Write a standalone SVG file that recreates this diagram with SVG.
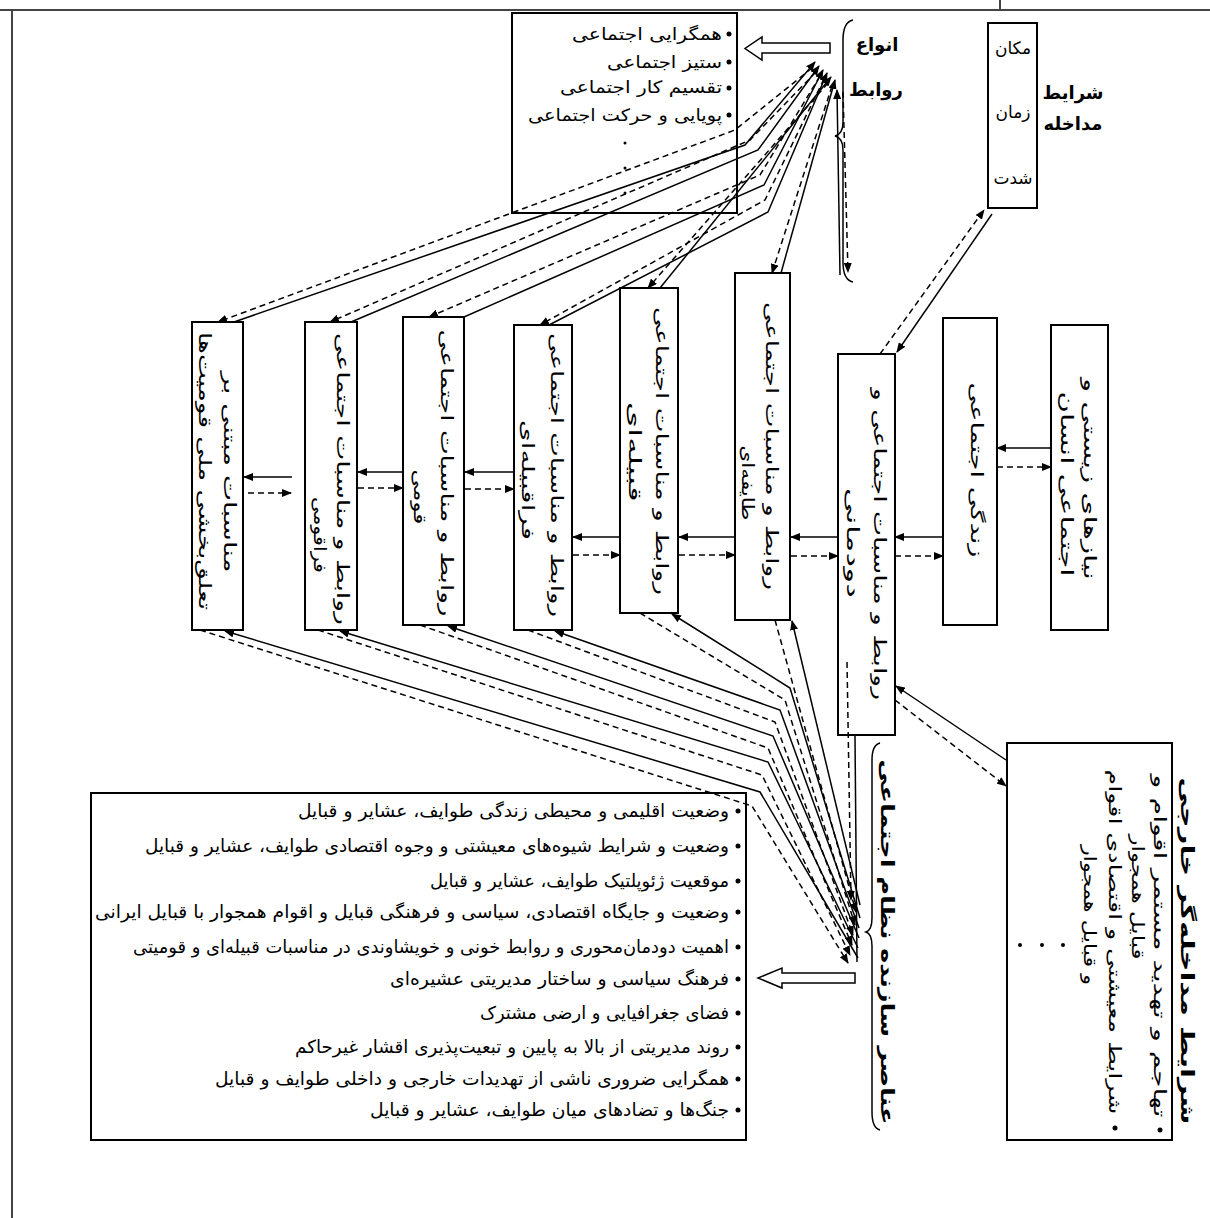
<svg xmlns="http://www.w3.org/2000/svg" width="1210" height="1218" viewBox="0 0 1210 1218">
<style>
.box{fill:#fff;stroke:#000;stroke-width:2}
.s{fill:none;stroke:#000;stroke-width:1.5}
.d{fill:none;stroke:#000;stroke-width:1.5;stroke-dasharray:6 4}
.h{fill:#fff;stroke:#000;stroke-width:1.5}
.t{font-family:'DejaVu Sans','Noto Sans',sans-serif;font-size:17px;fill:#000}
.l{font-size:18px}
.b{font-weight:bold;font-size:18px}
.frame{stroke:#444;stroke-width:2;fill:none}
</style>
<defs>
<marker id="a" viewBox="0 0 10 8" refX="9" refY="4" markerWidth="10" markerHeight="8" markerUnits="userSpaceOnUse" orient="auto"><path d="M0,0L10,4L0,8z" fill="#000"/></marker>
</defs>
<rect width="1210" height="1218" fill="#fff"/>
<g id="frame">
<path class="frame" d="M0,10H1210M12,10V1218M1000,0V10"/>
</g>

<g id="types-list">
<rect class="box" x="512" y="13" width="225" height="200"/>
<circle cx="729" cy="34" r="2.5"/><circle cx="729" cy="62" r="2.5"/><circle cx="729" cy="88" r="2.5"/><circle cx="729" cy="115" r="2.5"/>
<text class="t" x="722" y="40" text-anchor="end" textLength="150" lengthAdjust="spacingAndGlyphs">همگرایی اجتماعی</text>
<text class="t" x="722" y="68" text-anchor="end" textLength="115" lengthAdjust="spacingAndGlyphs">ستیز اجتماعی</text>
<text class="t" x="722" y="93" text-anchor="end" textLength="162" lengthAdjust="spacingAndGlyphs">تقسیم کار اجتماعی</text>
<text class="t" x="722" y="121" text-anchor="end" textLength="194" lengthAdjust="spacingAndGlyphs">پویایی و حرکت اجتماعی</text>
<circle cx="625" cy="143" r="1.5"/><circle cx="625" cy="168" r="1.5"/><circle cx="625" cy="193" r="1.5"/>
<polygon class="h" points="830,43 762,43 762,37 745,48.5 762,60 762,53 830,53"/>
</g>

<g id="types-label">
<path class="s" d="M853,20Q843,22 843,40L843,122Q843,134 835,136Q843,138 843,150L843,262Q843,280 853,282"/>
<text class="t b" x="877" y="51" text-anchor="middle">انواع</text>
<text class="t b" x="876" y="96" text-anchor="middle">روابط</text>
</g>

<g id="intervention">
<rect class="box" x="988" y="23" width="49" height="185"/>
<text class="t" x="1013" y="54" text-anchor="middle">مکان</text>
<text class="t" x="1013" y="118" text-anchor="middle">زمان</text>
<text class="t" x="1013" y="184" text-anchor="middle">شدت</text>
<text class="t b" x="1073" y="99" text-anchor="middle">شرایط</text>
<text class="t b" x="1073" y="130" text-anchor="middle">مداخله</text>
</g>

<g id="b1">
<rect class="box" x="192" y="322" width="51" height="308"/>
<text class="t" transform="translate(224,472) rotate(90)" text-anchor="middle" textLength="201" lengthAdjust="spacingAndGlyphs">مناسبات مبتنی بر</text>
<text class="t" transform="translate(199,471) rotate(90)" text-anchor="middle" textLength="278" lengthAdjust="spacingAndGlyphs">تعلق‌بخشی ملی قومیت‌ها</text>
</g>
<g id="b2">
<rect class="box" x="305" y="322" width="52" height="308"/>
<text class="t" transform="translate(337,479) rotate(90)" text-anchor="middle" textLength="292" lengthAdjust="spacingAndGlyphs">روابط و مناسبات اجتماعی</text>
<text class="t" transform="translate(314,535) rotate(90)" text-anchor="middle" textLength="76" lengthAdjust="spacingAndGlyphs">فراقومی</text>
</g>
<g id="b3">
<rect class="box" x="403" y="317" width="61" height="308"/>
<text class="t" transform="translate(441,473) rotate(90)" text-anchor="middle" textLength="287" lengthAdjust="spacingAndGlyphs">روابط و مناسبات اجتماعی</text>
<text class="t" transform="translate(414,497) rotate(90)" text-anchor="middle" textLength="55" lengthAdjust="spacingAndGlyphs">قومی</text>
</g>
<g id="b4">
<rect class="box" x="514" y="325" width="58" height="305"/>
<text class="t" transform="translate(551,475) rotate(90)" text-anchor="middle" textLength="284" lengthAdjust="spacingAndGlyphs">روابط و مناسبات اجتماعی</text>
<text class="t" transform="translate(522,480) rotate(90)" text-anchor="middle" textLength="120" lengthAdjust="spacingAndGlyphs">فراقبیله‌ای</text>
</g>
<g id="b5">
<rect class="box" x="620" y="288" width="58" height="325"/>
<text class="t" transform="translate(656,451) rotate(90)" text-anchor="middle" textLength="288" lengthAdjust="spacingAndGlyphs">روابط و مناسبات اجتماعی</text>
<text class="t" transform="translate(629,452) rotate(90)" text-anchor="middle" textLength="100" lengthAdjust="spacingAndGlyphs">قبیله‌ای</text>
</g>
<g id="b6">
<rect class="box" x="735" y="273" width="55" height="347"/>
<text class="t" transform="translate(766,446) rotate(90)" text-anchor="middle" textLength="288" lengthAdjust="spacingAndGlyphs">روابط و مناسبات اجتماعی</text>
<text class="t" transform="translate(742,483) rotate(90)" text-anchor="middle" textLength="75" lengthAdjust="spacingAndGlyphs">طایفه‌ای</text>
</g>
<g id="b7">
<rect class="box" x="838" y="354" width="57" height="381"/>
<text class="t" transform="translate(874,544) rotate(90)" text-anchor="middle" textLength="312" lengthAdjust="spacingAndGlyphs">روابط و مناسبات اجتماعی و</text>
<text class="t" transform="translate(847,543) rotate(90)" text-anchor="middle" textLength="110" lengthAdjust="spacingAndGlyphs">دودمانی</text>
</g>
<g id="b8">
<rect class="box" x="943" y="318" width="54" height="307"/>
<text class="t" transform="translate(971,470) rotate(90)" text-anchor="middle" textLength="175" lengthAdjust="spacingAndGlyphs">زندگی اجتماعی</text>
</g>
<g id="b9">
<rect class="box" x="1051" y="325" width="57" height="305"/>
<text class="t" transform="translate(1084,479) rotate(90)" text-anchor="middle" textLength="202" lengthAdjust="spacingAndGlyphs">نیازهای زیستی و</text>
<text class="t" transform="translate(1061,484) rotate(90)" text-anchor="middle" textLength="185" lengthAdjust="spacingAndGlyphs">اجتماعی انسان</text>
</g>

<g id="elements-list">
<rect class="box" x="91" y="793" width="655" height="347"/>
<g>
<circle cx="738" cy="811" r="2.5"/><circle cx="738" cy="846" r="2.5"/><circle cx="738" cy="881" r="2.5"/><circle cx="738" cy="912" r="2.5"/><circle cx="738" cy="947" r="2.5"/><circle cx="738" cy="979" r="2.5"/><circle cx="738" cy="1013" r="2.5"/><circle cx="738" cy="1047" r="2.5"/><circle cx="738" cy="1079" r="2.5"/><circle cx="738" cy="1110" r="2.5"/>
</g>
<text class="t l" x="729" y="817" text-anchor="end" textLength="431" lengthAdjust="spacingAndGlyphs">وضعیت اقلیمی و محیطی زندگی طوایف، عشایر و قبایل</text>
<text class="t l" x="729" y="852" text-anchor="end" textLength="584" lengthAdjust="spacingAndGlyphs">وضعیت و شرایط شیوه‌های معیشتی و وجوه اقتصادی طوایف، عشایر و قبایل</text>
<text class="t l" x="729" y="887" text-anchor="end" textLength="299" lengthAdjust="spacingAndGlyphs">موقعیت ژئوپلتیک طوایف، عشایر و قبایل</text>
<text class="t l" x="729" y="918" text-anchor="end" textLength="634" lengthAdjust="spacingAndGlyphs">وضعیت و جایگاه اقتصادی، سیاسی و فرهنگی قبایل و اقوام همجوار با قبایل ایرانی</text>
<text class="t l" x="729" y="953" text-anchor="end" textLength="596" lengthAdjust="spacingAndGlyphs">اهمیت دودمان‌محوری و روابط خونی و خویشاوندی در مناسبات قبیله‌ای و قومیتی</text>
<text class="t l" x="729" y="985" text-anchor="end" textLength="339" lengthAdjust="spacingAndGlyphs">فرهنگ سیاسی و ساختار مدیریتی عشیره‌ای</text>
<text class="t l" x="729" y="1019" text-anchor="end" textLength="249" lengthAdjust="spacingAndGlyphs">فضای جغرافیایی و ارضی مشترک</text>
<text class="t l" x="729" y="1053" text-anchor="end" textLength="434" lengthAdjust="spacingAndGlyphs">روند مدیریتی از بالا به پایین و تبعیت‌پذیری اقشار غیرحاکم</text>
<text class="t l" x="729" y="1085" text-anchor="end" textLength="514" lengthAdjust="spacingAndGlyphs">همگرایی ضروری ناشی از تهدیدات خارجی و داخلی طوایف و قبایل</text>
<text class="t l" x="729" y="1116" text-anchor="end" textLength="359" lengthAdjust="spacingAndGlyphs">جنگ‌ها و تضادهای میان طوایف، عشایر و قبایل</text>
<polygon class="h" points="855,973 782,973 782,968 758,978 782,988 782,983 855,983"/>
</g>

<g id="elements-label">
<path class="s" d="M880,743Q872,745 872,760L872,918Q872,930 866,932Q872,934 872,946L872,1112Q872,1128 880,1130"/>
<text class="t b" transform="translate(881,942) rotate(90)" text-anchor="middle" textLength="365" lengthAdjust="spacingAndGlyphs">عناصر سازنده نظام اجتماعی</text>
</g>

<g id="external">
<rect class="box" x="1007" y="743" width="165" height="397"/>
<text class="t b" transform="translate(1181,951) rotate(90)" text-anchor="middle" textLength="347" lengthAdjust="spacingAndGlyphs">شرایط مداخله‌گر خارجی</text>
<circle cx="1160" cy="1130" r="2.5"/>
<text class="t" transform="translate(1154,946) rotate(90)" text-anchor="middle" textLength="343" lengthAdjust="spacingAndGlyphs">تهاجم و تهدید مستمر اقوام و</text>
<text class="t" transform="translate(1132,897) rotate(90)" text-anchor="middle" textLength="125" lengthAdjust="spacingAndGlyphs">قبایل همجوار</text>
<circle cx="1115" cy="1128" r="2.5"/>
<text class="t" transform="translate(1109,942) rotate(90)" text-anchor="middle" textLength="345" lengthAdjust="spacingAndGlyphs">شرایط معیشتی و اقتصادی اقوام</text>
<text class="t" transform="translate(1084,915) rotate(90)" text-anchor="middle" textLength="140" lengthAdjust="spacingAndGlyphs">و قبایل همجوار</text>
<circle cx="1020" cy="945" r="2"/><circle cx="1042" cy="945" r="2"/><circle cx="1063" cy="945" r="2"/>
</g>

<g id="connectors">
<path class="s" marker-end="url(#a)" d="M1051,448H997"/>
<path class="d" marker-end="url(#a)" d="M997,467H1051"/>
<path class="s" marker-end="url(#a)" d="M943,537H895"/>
<path class="d" marker-end="url(#a)" d="M895,556H943"/>
<path class="s" marker-end="url(#a)" d="M838,537H791"/>
<path class="d" marker-end="url(#a)" d="M791,556H838"/>
<path class="s" marker-end="url(#a)" d="M735,537H679"/>
<path class="d" marker-end="url(#a)" d="M679,555H735"/>
<path class="s" marker-end="url(#a)" d="M620,537H573"/>
<path class="d" marker-end="url(#a)" d="M573,555H620"/>
<path class="s" marker-end="url(#a)" d="M514,472H465"/>
<path class="d" marker-end="url(#a)" d="M465,489H514"/>
<path class="s" marker-end="url(#a)" d="M403,472H358"/>
<path class="d" marker-end="url(#a)" d="M358,488H403"/>
<path class="s" marker-end="url(#a)" d="M292,477H244"/>
<path class="d" marker-end="url(#a)" d="M248,493H291"/>
<path class="s" marker-end="url(#a)" d="M234,322L745,145L815,62"/>
<path class="s" marker-end="url(#a)" d="M351,322L758,150L819,66"/>
<path class="s" marker-end="url(#a)" d="M464,317L764,185L823,70"/>
<path class="s" marker-end="url(#a)" d="M549,325L768,212L827,73"/>
<path class="s" marker-end="url(#a)" d="M660,288L831,77"/>
<path class="s" marker-end="url(#a)" d="M781,273L835,80"/>
<path class="d" marker-end="url(#a)" d="M812,68L735,130L218,322"/>
<path class="d" marker-end="url(#a)" d="M816,72L750,140L330,322"/>
<path class="d" marker-end="url(#a)" d="M820,76L760,175L429,317"/>
<path class="d" marker-end="url(#a)" d="M824,79L765,200L540,325"/>
<path class="d" marker-end="url(#a)" d="M828,83L648,288"/>
<path class="d" marker-end="url(#a)" d="M832,86L772,273"/>
<path class="s" marker-end="url(#a)" d="M840,275L837,90"/>
<path class="d" marker-end="url(#a)" d="M843,92L848,272"/>
<path class="d" marker-end="url(#a)" d="M200,630L752,806L848,963"/>
<path class="d" marker-end="url(#a)" d="M318,630L762,775L850,955"/>
<path class="d" marker-end="url(#a)" d="M420,625L768,748L852,945"/>
<path class="d" marker-end="url(#a)" d="M528,630L775,722L853,935"/>
<path class="d" marker-end="url(#a)" d="M640,613L785,700L855,925"/>
<path class="d" marker-end="url(#a)" d="M775,620L856,912"/>
<path class="s" marker-end="url(#a)" d="M858,958L760,792L225,631"/>
<path class="s" marker-end="url(#a)" d="M858,948L768,762L340,631"/>
<path class="s" marker-end="url(#a)" d="M859,938L773,736L448,626"/>
<path class="s" marker-end="url(#a)" d="M859,928L780,710L555,631"/>
<path class="s" marker-end="url(#a)" d="M860,918L790,688L672,614"/>
<path class="s" marker-end="url(#a)" d="M860,905L792,621"/>
<path class="d" marker-end="url(#a)" d="M847,662L851,900"/>
<path class="s" d="M855,736L857,962"/>
<path class="d" marker-end="url(#a)" d="M880,354L984,210"/>
<path class="s" marker-end="url(#a)" d="M992,214L897,352"/>
<path class="s" marker-end="url(#a)" d="M1006,760L896,686"/>
<path class="d" marker-end="url(#a)" d="M895,700L1006,786"/>
</g>
</svg>
